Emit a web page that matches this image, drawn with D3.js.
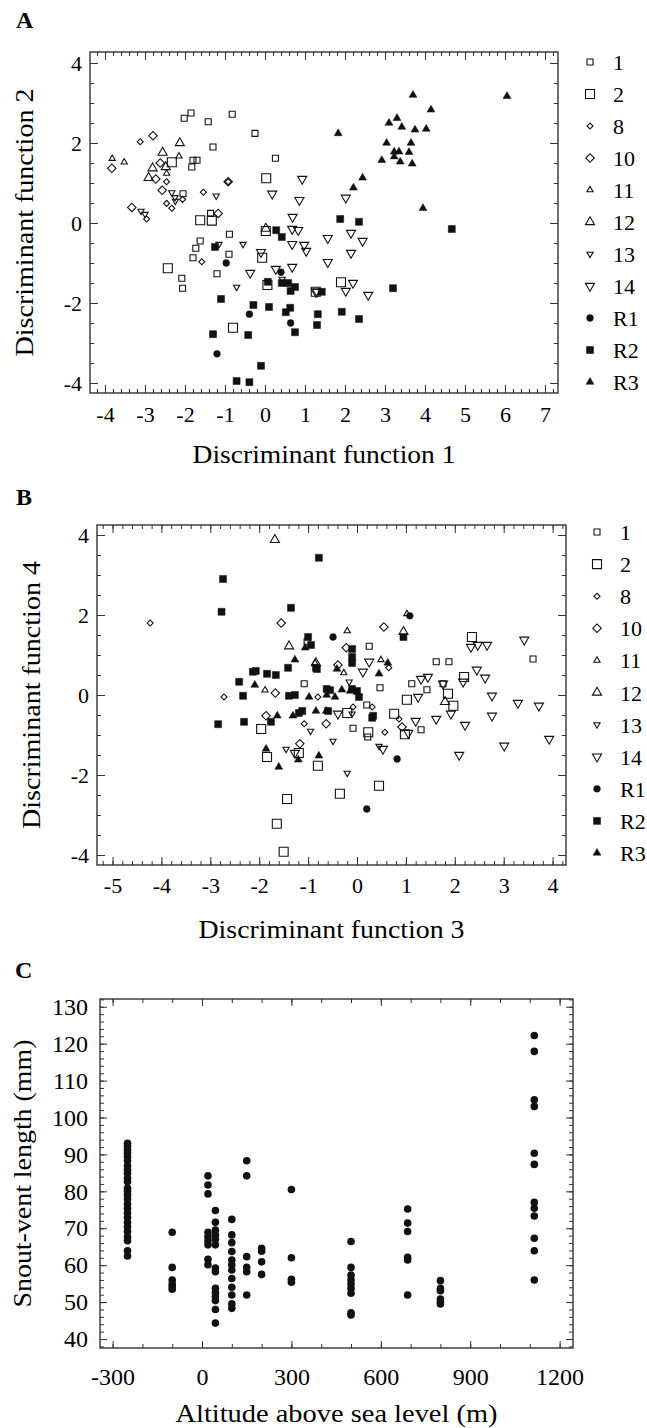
<!DOCTYPE html>
<html>
<head>
<meta charset="utf-8">
<script src="https://cdnjs.cloudflare.com/ajax/libs/d3/7.8.5/d3.min.js"></script>
<style>
  body { margin: 0; background: #fff; }
  svg text { font-family: "Liberation Serif", "Times New Roman", serif; fill: #000; }
</style>
</head>
<body>
<div id="chart"></div>
<script>
// groups in legend order (panels A and B)
var groups = ["1","2","8","10","11","12","13","14","R1","R2","R3"];

// panel A: [group, function 1, function 2]
var pointsA = [
  ["1",-2.02,2.62],["1",-1.85,2.75],["1",-1.42,2.53],["1",-0.82,2.72],["1",-0.25,2.24],["1",-1.3,1.9],
  ["1",0.26,1.62],["1",-1.8,1.57],["1",-1.7,1.57],["1",-1.83,1.4],["1",-1.36,0.24],["1",-0.89,-0.28],
  ["1",-1.62,-0.45],["1",-1.73,-0.63],["1",-1.8,-0.87],["1",-0.9,-0.78],["1",-2.08,-1.38],["1",-2.06,-1.63],
  ["1",-1.2,-1.27],["1",-2.05,0.73],
  ["2",-2.33,1.52],["2",0.03,1.12],["2",-1.62,0.07],["2",-1.33,0.06],["2",-2.43,-1.13],["2",-0.07,-0.87],
  ["2",-0.8,-2.62],["2",0.06,-1.55],["2",1.9,-1.48],["2",1.27,-1.72],["2",0.02,-0.2],
  ["8",-3.12,2.03],["8",-2.96,0.1],["8",-1.54,0.77],["8",-2.46,0.49],["8",-2.33,0.37],["8",-2.06,0.59],
  ["8",-1.58,-0.97],["8",-2.46,1.03],["8",-0.92,1.03],
  ["10",-2.8,2.18],["10",-3.83,1.37],["10",-2.62,1.5],["10",-2.73,1.1],["10",-3.33,0.39],["10",-0.92,1.03],
  ["10",-1.17,0.24],["10",-2.57,0.82],
  ["11",-3.82,1.61],["11",-3.52,1.52],["11",-2.15,1.67],["11",-2.46,1.24],
  ["12",-2.13,2.0],["12",-2.56,1.76],["12",-2.81,1.37],["12",-2.91,1.13],["12",-2.48,1.4],["12",0.02,-0.14],
  ["13",-3.1,0.3],["13",-3.0,0.22],["13",-2.33,0.76],["13",-2.25,0.64],["13",-1.22,0.68],["13",-1.15,-0.53],
  ["13",-0.55,-0.53],["13",-0.71,-1.6],["13",0.43,-1.4],["13",-2.24,0.55],
  ["14",0.93,1.1],["14",0.18,0.73],["14",0.86,0.57],["14",0.69,0.15],["14",0.68,-0.15],["14",0.83,-0.18],
  ["14",1.57,-0.38],["14",-0.37,-1.25],["14",-0.1,-0.73],["14",0.27,-1.15],["14",0.68,-1.1],["14",0.68,-0.53],
  ["14",0.98,-0.55],["14",1.03,-0.7],["14",1.57,-0.98],["14",1.3,-1.72],["14",2.15,-0.25],["14",2.44,-0.45],
  ["14",2.15,-0.75],["14",2.2,-1.5],["14",2.02,-1.7],["14",2.58,-1.8],["14",2.02,0.63],["14",1.27,-1.72],
  ["R1",-0.97,-1.0],["R1",-0.39,-2.28],["R1",-1.2,-3.27],["R1",0.4,-1.23],["R1",0.64,-2.5],
  ["R2",0.28,-0.18],["R2",0.42,-0.35],["R2",-1.25,-0.6],["R2",-1.1,-1.9],["R2",-0.29,-2.05],["R2",0.1,-2.1],
  ["R2",-1.3,-2.78],["R2",-0.42,-2.8],["R2",-0.1,-3.57],["R2",-0.71,-3.95],["R2",-0.39,-3.98],["R2",0.07,-1.47],
  ["R2",0.42,-1.5],["R2",0.58,-1.5],["R2",0.75,-1.6],["R2",0.64,-1.7],["R2",0.52,-2.23],["R2",0.63,-2.12],
  ["R2",0.75,-2.73],["R2",1.42,-1.72],["R2",1.32,-2.28],["R2",1.3,-2.55],["R2",1.88,0.1],["R2",2.35,0.03],
  ["R2",4.67,-0.15],["R2",3.2,-1.63],["R2",1.92,-2.22],["R2",2.35,-2.4],
  ["R3",3.7,3.2],["R3",6.05,3.17],["R3",4.15,2.83],["R3",3.1,2.5],["R3",3.3,2.62],["R3",3.42,2.4],
  ["R3",3.75,2.33],["R3",4.03,2.35],["R3",1.83,2.24],["R3",3.04,2.0],["R3",3.65,2.0],["R3",3.23,1.78],
  ["R3",3.35,1.78],["R3",3.23,1.66],["R3",3.6,1.77],["R3",2.92,1.57],["R3",3.38,1.53],["R3",3.68,1.48],
  ["R3",2.44,1.13],["R3",2.21,0.88],["R3",3.95,0.37]
];

// panel B: [group, function 3, function 4]
var pointsB = [
  ["1",-1.02,1.33],["1",-1.08,0.28],["1",0.25,1.22],["1",0.47,0.18],["1",1.12,0.28],["1",1.62,0.83],
  ["1",1.88,0.83],["1",3.6,0.9],["1",-0.08,-0.83],["1",0.2,-0.25],["1",0.22,-1.05],["1",1.31,-0.87],
  ["1",1.43,0.13],["1",1.76,0.28],
  ["2",-1.96,-0.85],["2",-1.84,-1.55],["2",-1.19,-1.45],["2",-0.8,-1.77],["2",-1.43,-2.6],["2",-1.64,-3.22],
  ["2",-1.5,-3.92],["2",-0.35,-2.47],["2",0.45,-2.27],["2",-0.2,-0.45],["2",0.23,-0.93],["2",0.76,-0.47],
  ["2",0.98,-0.98],["2",1.97,-0.27],["2",1.86,0.03],["2",1.02,-0.12],["2",2.35,1.45],["2",2.19,0.45],
  ["8",-4.23,1.8],["8",-2.72,-0.05],["8",-1.08,-0.72],["8",-0.08,-0.3],["8",0.31,-0.3],["8",0.57,-0.93],
  ["8",0.86,-0.6],["8",0.65,0.68],["8",-0.8,-0.05],
  ["10",-1.55,1.8],["10",-1.67,0.05],["10",-1.86,-0.52],["10",-0.63,-0.72],["10",-1.17,-1.22],["10",0.55,1.7],
  ["10",-0.22,1.18],["10",-0.39,0.75],["10",0.92,-0.8],
  ["11",-1.88,0.12],["11",1.02,2.03],["11",-0.2,1.6],["11",-0.86,0.8],["11",0.49,0.88],["11",-0.27,0.55],
  ["12",-1.68,3.88],["12",-1.39,1.22],["12",-0.84,0.8],["12",0.95,1.58],["12",1.8,-0.17],
  ["13",-0.95,-0.9],["13",-1.45,-1.35],["13",-0.2,-1.95],["13",0.45,-1.28],["13",-0.49,-1.15],["13",-0.1,-0.47],
  ["13",-0.16,0.33],
  ["14",-1.27,-1.45],["14",0.53,-1.35],["14",-0.39,-0.47],["14",1.05,-0.95],["14",1.2,-0.65],["14",1.62,-0.6],
  ["14",1.92,-0.47],["14",2.21,-0.75],["14",2.09,-1.5],["14",2.76,-0.52],["14",3.01,-1.27],["14",3.93,-1.1],
  ["14",3.72,-0.27],["14",3.29,-0.2],["14",2.76,-0.02],["14",1.25,-0.05],["14",0.25,0.83],["14",0.12,0.58],
  ["14",1.31,0.4],["14",1.45,0.45],["14",1.76,0.28],["14",2.17,0.33],["14",2.33,1.2],["14",2.47,1.25],
  ["14",2.66,1.25],["14",2.45,0.63],["14",2.62,0.43],["14",3.42,1.38],
  ["R1",-0.49,1.45],["R1",1.08,1.98],["R1",0.2,-2.85],["R1",0.82,-1.6],
  ["R2",-0.78,3.43],["R2",-2.74,2.9],["R2",-2.77,2.08],["R2",-1.35,2.18],["R2",-1.0,1.45],["R2",-0.94,1.25],
  ["R2",-0.82,0.65],["R2",-1.41,0.68],["R2",-2.13,0.58],["R2",-2.07,0.6],["R2",-1.84,0.53],["R2",-1.66,0.5],
  ["R2",-2.41,0.33],["R2",-0.62,0.15],["R2",-2.33,-0.02],["R2",-1.39,-0.02],["R2",-1.27,0.0],["R2",-2.84,-0.73],
  ["R2",-2.31,-0.67],["R2",-1.76,-0.67],["R2",-1.19,-0.45],["R2",0.31,-0.57],["R2",0.33,-0.52],["R2",-1.12,-0.4],
  ["R2",-0.59,-0.4],["R2",0.95,1.45],["R2",-0.1,1.15],["R2",-0.1,0.95],["R2",-0.1,0.8],["R2",-0.84,0.68],
  ["R2",0.04,-0.05],["R2",-0.55,0.12],["R2",-0.1,0.15],["R2",0.0,0.1],
  ["R3",-1.06,1.18],["R3",-1.27,0.88],["R3",-2.09,0.25],["R3",-0.98,-0.05],["R3",-1.63,-0.52],["R3",-1.31,-0.52],
  ["R3",-0.84,-0.4],["R3",-0.63,-0.4],["R3",-1.86,-1.35],["R3",-1.6,-1.8],["R3",-1.2,-1.62],["R3",-0.78,-1.52],
  ["R3",0.63,0.8],["R3",-0.41,0.65],["R3",0.45,0.53],["R3",-0.31,0.13],["R3",-0.62,0.0],["R3",-0.45,-0.05],
  ["R3",-0.14,0.1]
];

// panel C: altitude (m) of each sampled site and snout-vent lengths (mm) there
var altitudes = [-250,-100,20,45,100,150,200,300,500,690,800,1115];
var svl = [
  [93,92.2,91.3,90.4,89.4,88.3,86.9,85.8,84.9,83.6,82.6,80.8,80,79,77.9,76.6,75.4,74.1,72.9,71.6,70.4,69.1,67.7,66.6,63.9,62.5],
  [68.9,59.4,56.0,54.9,54.2,53.5],
  [84.2,81.7,79.3,68.9,67.7,66.6,65.5,61.6,60.1],
  [74.8,71.6,69.5,68.2,67.0,65.5,59.2,58.2,53.7,52.5,51.5,50.4,48.0,44.3],
  [72.4,68.2,66.1,63.7,61.4,60.1,58.7,56.4,54.0,51.9,49.5,48.3],
  [88.3,84.2,62.3,59.4,58.2,51.9],
  [64.6,63.8,60.9,57.5],
  [80.5,62.0,56.2,55.4],
  [66.4,59.4,57.3,56.0,54.9,53.7,52.4,47.1,46.5],
  [75.2,71.4,69.1,62.1,61.4,51.9],
  [55.8,53.7,53.1,50.8,50.1,49.5],
  [122.2,117.9,104.8,103.0,90.3,87.3,77.0,75.4,73.3,67.3,63.9,56.0]
];

var W = 647, H = 1428;
var ink = "#111";

var svg = d3.select("#chart").append("svg")
    .attr("width", W)
    .attr("height", H);

// marker for each group
var markers = {
  "1":  {type: d3.symbolSquare,   size: 36, fill: false, rot: 0},
  "2":  {type: d3.symbolSquare,   size: 81, fill: false, rot: 0},
  "8":  {type: d3.symbolSquare,   size: 18, fill: false, rot: 45},
  "10": {type: d3.symbolSquare,   size: 36, fill: false, rot: 45},
  "11": {type: d3.symbolTriangle, size: 17, fill: false, rot: 0},
  "12": {type: d3.symbolTriangle, size: 36, fill: false, rot: 0},
  "13": {type: d3.symbolTriangle, size: 17, fill: false, rot: 180},
  "14": {type: d3.symbolTriangle, size: 36, fill: false, rot: 180},
  "R1": {type: d3.symbolCircle,   size: 36, fill: true,  rot: 0},
  "R2": {type: d3.symbolSquare,   size: 49, fill: true,  rot: 0},
  "R3": {type: d3.symbolTriangle, size: 27, fill: true,  rot: 0}
};

function drawMarker(sel){
  sel.attr("d", function(d){ var m = markers[d.g]; return d3.symbol().type(m.type).size(m.size)(); })
     .attr("fill", function(d){ return markers[d.g].fill ? ink : "none"; })
     .attr("stroke", ink)
     .attr("stroke-width", function(d){ return markers[d.g].fill ? 0.5 : 1.1; });
}

// frame with inward ticks on all four sides
function frame(o, x, y){
  var g = svg.append("g");
  var sides = [
    {ax: d3.axisBottom(x), t: "translate(0," + o.bottom + ")", maj: o.xMajor, min: o.xMinor, lab: true, pad: o.xPad},
    {ax: d3.axisTop(x),    t: "translate(0," + o.top + ")",    maj: o.xMajor, min: o.xMinor, lab: false},
    {ax: d3.axisLeft(y),   t: "translate(" + o.left + ",0)",   maj: o.yMajor, min: o.yMinor, lab: true, pad: o.yPad},
    {ax: d3.axisRight(y),  t: "translate(" + o.right + ",0)",  maj: o.yMajor, min: o.yMinor, lab: false}
  ];
  sides.forEach(function(s){
    var base = s.ax;
    var gm = g.append("g").attr("transform", s.t)
      .call(base.tickValues(s.min).tickSize(-o.minorLen).tickFormat(""));
    gm.select(".domain").remove();
    var gM = g.append("g").attr("transform", s.t)
      .call(base.tickValues(s.maj).tickSize(-o.majorLen).tickPadding(s.pad || 0)
        .tickFormat(s.lab ? function(d){ return String(d); } : ""));
    gM.select(".domain").remove();
    g.selectAll(".tick line").attr("stroke", "#333").attr("stroke-width", 1);
    gM.selectAll("text").attr("font-size", o.tickFont).attr("fill", "#000");
  });
  g.append("rect")
    .attr("x", o.left).attr("y", o.top)
    .attr("width", o.right - o.left).attr("height", o.bottom - o.top)
    .attr("fill", "none").attr("stroke", "#333").attr("stroke-width", 1.4);
}

function titles(o){
  svg.append("text").text(o.letter)
    .attr("x", o.letterX).attr("y", o.letterY)
    .style("font-size", "24px").style("font-weight", "bold");
  svg.append("text").text(o.xTitle)
    .attr("x", (o.left + o.right) / 2).attr("y", o.xTitleY)
    .attr("textLength", o.xTitleLen).attr("lengthAdjust", "spacingAndGlyphs")
    .style("text-anchor", "middle").style("font-size", o.titleFont + "px");
  svg.append("text").text(o.yTitle)
    .attr("transform", "translate(" + o.yTitleX + "," + ((o.top + o.bottom) / 2) + ") rotate(-90)")
    .attr("textLength", o.yTitleLen).attr("lengthAdjust", "spacingAndGlyphs")
    .style("text-anchor", "middle").style("font-size", o.titleFont + "px");
}

function scatterPanel(o, pts){
  var x = d3.scaleLinear().domain(o.xDomain).range([o.left, o.right]);
  var y = d3.scaleLinear().domain(o.yDomain).range([o.bottom, o.top]);
  frame(o, x, y);
  titles(o);

  var data = pts.map(function(p){ return {g: p[0], x: p[1], y: p[2]}; });
  svg.append("g").selectAll("path")
    .data(data)
    .enter()
    .append("path")
    .attr("transform", function(d){
      return "translate(" + x(d.x) + "," + y(d.y) + ") rotate(" + markers[d.g].rot + ")";
    })
    .call(drawMarker);

  // legend
  var ly = d3.scalePoint().domain(groups).range(o.legendY);
  var lg = svg.append("g");
  lg.selectAll("path")
    .data(groups.map(function(g){ return {g: g}; }))
    .enter()
    .append("path")
    .attr("transform", function(d){
      return "translate(" + o.legendX + "," + ly(d.g) + ") rotate(" + markers[d.g].rot + ")";
    })
    .call(drawMarker);
  lg.selectAll("text")
    .data(groups)
    .enter()
    .append("text")
    .text(function(d){ return d; })
    .attr("x", o.legendX + 23)
    .attr("y", function(d){ return ly(d) + 8; })
    .style("font-size", "22px");
}

var xr = function(a, b, step){ return d3.range(Math.round(a / step), Math.round(b / step) + 1).map(function(i){ return +(i * step).toFixed(3); }); };

scatterPanel({
  left: 90, right: 558, top: 52, bottom: 393,
  xDomain: [-4.375, 7.325], yDomain: [-4.25, 4.275],
  xMajor: xr(-4, 7, 1), xMinor: xr(-4.2, 7.2, 0.2),
  yMajor: [-4, -2, 0, 2, 4], yMinor: xr(-4, 4, 0.5),
  majorLen: 8, minorLen: 4, tickFont: 22, xPad: 13, yPad: 8,
  letter: "A", letterX: 16, letterY: 28,
  xTitle: "Discriminant function 1", xTitleY: 463, xTitleLen: 263,
  yTitle: "Discriminant function 2", yTitleX: 33, yTitleLen: 268, titleFont: 25,
  legendX: 590, legendY: [62, 382]
}, pointsA);

scatterPanel({
  left: 97, right: 566, top: 525, bottom: 865,
  xDomain: [-5.317, 4.274], yDomain: [-4.25, 4.25],
  xMajor: xr(-5, 4, 1), xMinor: xr(-5.2, 4.2, 0.2),
  yMajor: [-4, -2, 0, 2, 4], yMinor: xr(-4, 4, 0.5),
  majorLen: 8, minorLen: 4, tickFont: 22, xPad: 12, yPad: 8,
  letter: "B", letterX: 16, letterY: 505,
  xTitle: "Discriminant function 3", xTitleY: 938, xTitleLen: 266,
  yTitle: "Discriminant function 4", yTitleX: 40, yTitleLen: 268, titleFont: 25,
  legendX: 597, legendY: [532, 853]
}, pointsB);

// panel C
(function(){
  var o = {
    left: 100, right: 573, top: 999, bottom: 1348,
    xMajor: xr(-300, 1200, 300), xMinor: xr(-300, 1200, 100),
    yMajor: xr(40, 130, 10), yMinor: xr(38, 132, 2),
    majorLen: 7, minorLen: 4, tickFont: 24, xPad: 20, yPad: 12,
    letter: "C", letterX: 15, letterY: 978,
    xTitle: "Altitude above sea level (m)", xTitleY: 1422, xTitleLen: 322,
    yTitle: "Snout-vent length (mm)", yTitleX: 31, yTitleLen: 268, titleFont: 25
  };
  var x = d3.scaleLinear().domain([-342.3, 1244.9]).range([o.left, o.right]);
  var y = d3.scaleLinear().domain([37.56, 132.1]).range([o.bottom, o.top]);
  frame(o, x, y);
  titles(o);

  var dots = [];
  altitudes.forEach(function(a, i){
    svl[i].forEach(function(v){ dots.push({alt: a, len: v}); });
  });
  svg.append("g").selectAll("circle")
    .data(dots)
    .enter()
    .append("circle")
    .attr("cx", function(d){ return x(d.alt); })
    .attr("cy", function(d){ return y(d.len); })
    .attr("r", 3.8)
    .style("fill", ink);
})();
</script>
</body>
</html>
